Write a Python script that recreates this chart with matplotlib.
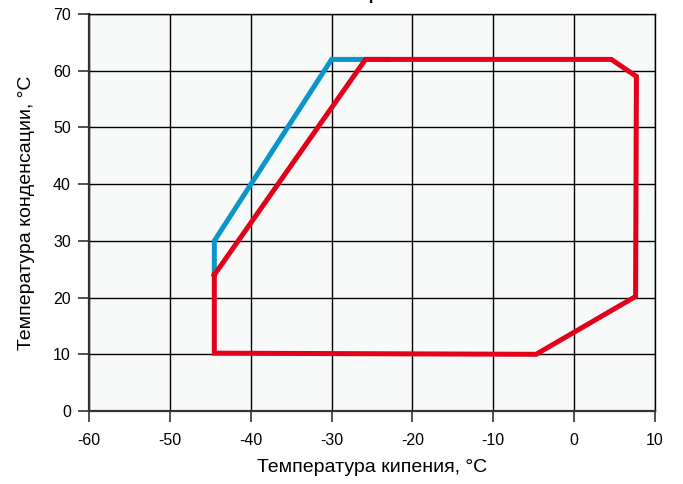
import matplotlib.pyplot as plt

plt.rcParams['font.family'] = ['Liberation Sans', 'DejaVu Sans']
plt.rcParams['axes.unicode_minus'] = False

# Operating envelope: boiling temperature (x) vs condensing temperature (y)
blue_x = [-44.5, -44.5, -30, -23]
blue_y = [24, 30, 62, 62]

red_x = [-44.5, -25.8, 4.6, 7.7, 7.6, -4.7, -44.5, -44.5]
red_y = [24, 62, 62, 59, 20.2, 10, 10.2, 24]

x_ticks = [-60, -50, -40, -30, -20, -10, 0, 10]
y_ticks = [0, 10, 20, 30, 40, 50, 60, 70]

fig = plt.figure(figsize=(6.83, 4.84), dpi=100)
ax = fig.add_axes([0.1303, 0.1508, 0.8287, 0.8202])
ax.set_facecolor('#f8fafa')

ax.plot(blue_x, blue_y, color='#0a96cb', lw=3.6, solid_joinstyle='miter', zorder=3)
ax.plot(red_x, red_y, color='#e2001a', lw=3.6, solid_joinstyle='miter', zorder=4)

ax.set_xlim(-60, 10)
ax.set_ylim(0, 70)
ax.set_xticks(x_ticks)
ax.set_yticks(y_ticks)
ax.grid(True, color='black', lw=1.0)
ax.set_axisbelow(True)
ax.tick_params(axis='x', pad=8)
ax.tick_params(direction='out', length=8, width=1.2, color='#333333',
               labelsize=11.5)
ax.tick_params(axis='y', pad=5)

for side in ['top', 'right']:
    ax.spines[side].set_color('black')
    ax.spines[side].set_linewidth(1.0)
for side in ['left', 'bottom']:
    ax.spines[side].set_color('#333333')
    ax.spines[side].set_linewidth(1.6)

ax.set_xlabel('Температура кипения, °C', fontsize=14, labelpad=8)
ax.set_ylabel('Температура конденсации, °C', fontsize=14, labelpad=13)

# title sits mostly above the visible canvas
fig.text(0.545, 1.0, 'Область применения', ha='center', va='baseline',
         fontsize=12, fontweight='bold')

fig.savefig('out.png', dpi=100)
